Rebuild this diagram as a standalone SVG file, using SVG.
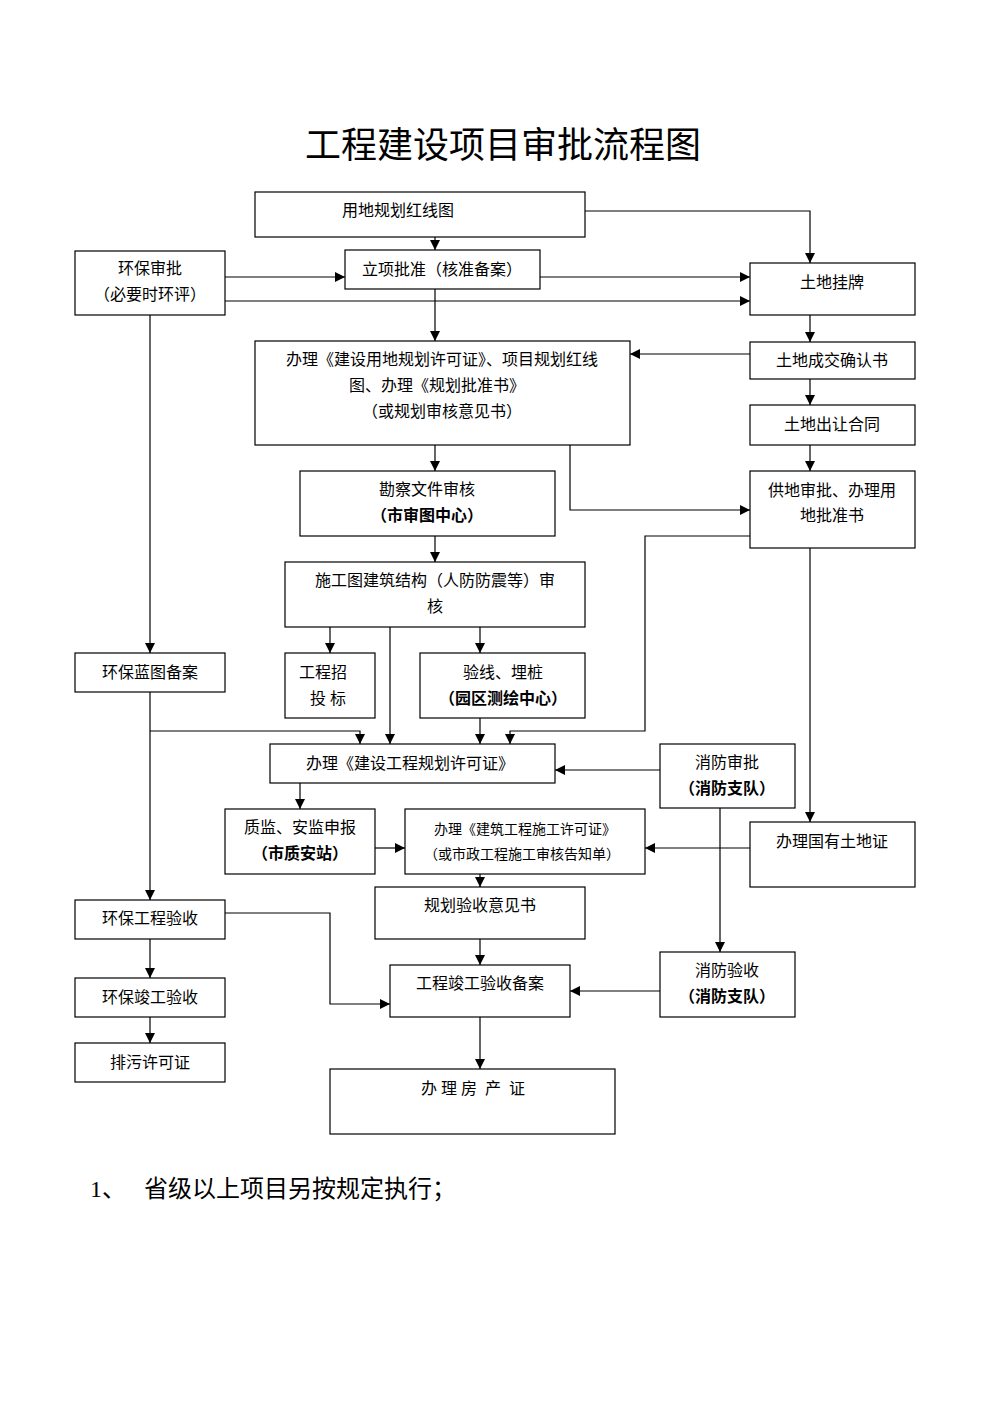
<svg xmlns="http://www.w3.org/2000/svg" width="993" height="1404" viewBox="0 0 993 1404">
<style>
rect{fill:#fff;stroke:#000;stroke-width:1.2}
text{font-family:"Liberation Serif","Noto Sans CJK SC",serif;font-size:16px;text-anchor:middle;fill:#000}
.b{font-weight:bold}
#c path{fill:none;stroke:#000;stroke-width:1.2;marker-end:url(#a)}
</style>
<defs><marker id="a" viewBox="0 0 10 10" refX="10" refY="5" markerWidth="10" markerHeight="10" markerUnits="userSpaceOnUse" orient="auto"><path d="M0,0L10,5L0,10z" fill="#000"/></marker></defs>
<rect x="0" y="0" width="993" height="1404" style="stroke:none"/>
<text x="503" y="158" style="font-size:36px">工程建设项目审批流程图</text>
<g id="c">
<path d="M585,211H810V263"/><path d="M435,237V250"/><path d="M225,277H345"/><path d="M540,277H750"/><path d="M225,301H750"/><path d="M435,289V341"/><path d="M810,315V342"/><path d="M750,354H630"/><path d="M810,379V405"/><path d="M810,445V471"/><path d="M570,445V510H750"/><path d="M435,445V471"/><path d="M435,536V562"/><path d="M150,315V653"/><path d="M330,627V653"/><path d="M480,627V653"/><path d="M390,627V744"/><path d="M150,692V900"/><path d="M150,731H360V744"/><path d="M480,718V744"/><path d="M750,536H645V731H510V744"/><path d="M660,770H555"/><path d="M300,783V809"/><path d="M375,848H405"/><path d="M750,848H645"/><path d="M810,548V822"/><path d="M480,874V887"/><path d="M720,808V952"/><path d="M480,939V965"/><path d="M225,913H330V1004H390"/><path d="M660,991H570"/><path d="M150,939V978"/><path d="M150,1017V1043"/><path d="M480,1017V1069"/>
</g>
<g id="n1"><rect x="255" y="192" width="330" height="45"/><text x="398" y="216">用地规划红线图</text></g>
<g id="n2"><rect x="75" y="251" width="150" height="64"/><text x="150" y="274">环保审批</text><text x="150" y="300">（必要时环评）</text></g>
<g id="n3"><rect x="345" y="250" width="195" height="39"/><text x="442" y="275">立项批准（核准备案）</text></g>
<g id="n4"><rect x="750" y="263" width="165" height="52"/><text x="832" y="288">土地挂牌</text></g>
<g id="n5"><rect x="255" y="341" width="375" height="104"/><text x="442" y="365">办理《建设用地规划许可证》、项目规划红线</text><text x="437" y="391">图、办理《规划批准书》</text><text x="442" y="417">（或规划审核意见书）</text></g>
<g id="n6"><rect x="750" y="342" width="165" height="37"/><text x="832" y="366">土地成交确认书</text></g>
<g id="n7"><rect x="750" y="405" width="165" height="40"/><text x="832" y="430">土地出让合同</text></g>
<g id="n8"><rect x="300" y="471" width="255" height="65"/><text x="427" y="495">勘察文件审核</text><text x="427" y="521" class="b">（市审图中心）</text></g>
<g id="n9"><rect x="750" y="471" width="165" height="77"/><text x="832" y="496">供地审批、办理用</text><text x="832" y="521">地批准书</text></g>
<g id="n10"><rect x="285" y="562" width="300" height="65"/><text x="435" y="586">施工图建筑结构（人防防震等）审</text><text x="435" y="612">核</text></g>
<g id="n11"><rect x="75" y="653" width="150" height="39"/><text x="150" y="678">环保蓝图备案</text></g>
<g id="n12"><rect x="285" y="653" width="90" height="65"/><text x="323" y="678">工程招</text><text x="328" y="704">投 标</text></g>
<g id="n13"><rect x="420" y="653" width="165" height="65"/><text x="503" y="678">验线、埋桩</text><text x="503" y="704" class="b">（园区测绘中心）</text></g>
<g id="n14"><rect x="270" y="744" width="285" height="39"/><text x="410" y="769">办理《建设工程规划许可证》</text></g>
<g id="n15"><rect x="660" y="744" width="135" height="64"/><text x="727" y="768">消防审批</text><text x="727" y="794" class="b">（消防支队）</text></g>
<g id="n16"><rect x="225" y="809" width="150" height="65"/><text x="300" y="833">质监、安监申报</text><text x="300" y="859" class="b">（市质安站）</text></g>
<g id="n17"><rect x="405" y="809" width="240" height="65"/><text x="525" y="834" style="font-size:14px">办理《建筑工程施工许可证》</text><text x="522" y="859" style="font-size:14px">（或市政工程施工审核告知单）</text></g>
<g id="n18"><rect x="750" y="822" width="165" height="65"/><text x="832" y="847">办理国有土地证</text></g>
<g id="n19"><rect x="375" y="887" width="210" height="52"/><text x="480" y="911">规划验收意见书</text></g>
<g id="n20"><rect x="75" y="900" width="150" height="39"/><text x="150" y="924">环保工程验收</text></g>
<g id="n21"><rect x="660" y="952" width="135" height="65"/><text x="727" y="976">消防验收</text><text x="727" y="1002" class="b">（消防支队）</text></g>
<g id="n22"><rect x="390" y="965" width="180" height="52"/><text x="480" y="989">工程竣工验收备案</text></g>
<g id="n23"><rect x="75" y="978" width="150" height="39"/><text x="150" y="1003">环保竣工验收</text></g>
<g id="n24"><rect x="75" y="1043" width="150" height="39"/><text x="150" y="1068">排污许可证</text></g>
<g id="n25"><rect x="330" y="1069" width="285" height="65"/><text x="473" y="1094" xml:space="preserve">办 理 房  产  证</text></g>
<text x="90" y="1197" style="font-size:24px;text-anchor:start" xml:space="preserve">1、   省级以上项目另按规定执行；</text>
</svg>
